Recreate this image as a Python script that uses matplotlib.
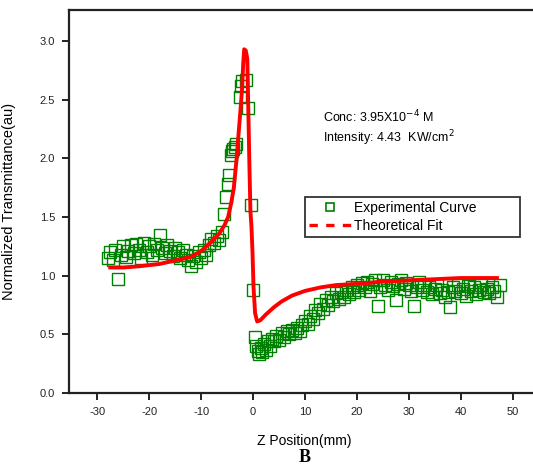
import matplotlib
matplotlib.use("Agg")
import matplotlib.pyplot as plt
from matplotlib.lines import Line2D

plt.rcParams['font.family'] = ['Liberation Sans', 'DejaVu Sans']
plt.rcParams['axes.unicode_minus'] = False

# experimental z-scan points (z in mm, normalized transmittance)
exp_z = [-28.0, -27.5, -27.0, -26.5, -26.0, -25.5, -25.0, -24.5, -24.0, -23.5,
         -23.0, -22.5, -22.0, -21.5, -21.0, -20.5, -20.0, -19.5, -19.0, -18.5,
         -18.0, -17.5, -17.0, -16.5, -16.0, -15.5, -15.0, -14.5, -14.0, -13.5,
         -13.0, -12.5, -12.0, -11.5, -11.0, -10.5, -10.0, -9.5, -9.0, -8.5,
         -8.0, -7.5, -7.0, -6.5, -6.0,
         -5.6, -5.2, -4.9, -4.6, -4.2, -4.0, -3.8, -3.5, -3.2, -2.6,
         -2.3, -2.1, -1.3, -0.9, -0.3, 0.0,
         0.3, 0.6, 0.9, 1.2, 1.5, 1.8, 2.1, 2.5, 2.8, 3.2,
         3.6, 4.0, 4.5, 5.0, 5.5, 6.0, 6.5, 7.0, 7.5, 8.0,
         8.5, 9.0, 9.5, 10.0, 10.5, 11.0, 11.5, 12.0, 12.5, 13.0,
         13.5, 14.0, 14.5, 15.0, 15.5, 16.0, 16.5, 17.0, 17.5, 18.0,
         18.5, 19.0, 19.5, 20.0, 20.5, 21.0, 21.5, 22.0, 22.5, 23.0,
         23.5, 24.0, 24.5, 25.0, 25.5, 26.0, 26.5, 27.0, 27.5, 28.0,
         28.5, 29.0, 29.5, 30.0, 30.5, 31.0, 31.5, 32.0, 32.5, 33.0,
         33.5, 34.0, 34.5, 35.0, 35.5, 36.0, 36.5, 37.0, 37.5, 38.0,
         38.5, 39.0, 39.5, 40.0, 40.5, 41.0, 41.5, 42.0, 42.5, 43.0,
         43.5, 44.0, 44.5, 45.0, 45.5, 46.0, 46.5, 47.0, 47.5]
exp_t = [1.15, 1.20, 1.13, 1.22, 0.97, 1.18, 1.25, 1.16, 1.21, 1.26,
         1.19, 1.27, 1.22, 1.15, 1.28, 1.20, 1.25, 1.18, 1.27, 1.22,
         1.35, 1.24, 1.19, 1.26, 1.21, 1.17, 1.24, 1.20, 1.15, 1.22,
         1.18, 1.13, 1.08, 1.17, 1.12, 1.20, 1.15, 1.22, 1.18, 1.26,
         1.31, 1.28, 1.34, 1.30, 1.37,
         1.53, 1.67, 1.78, 1.86, 2.03, 2.06, 2.08, 2.10, 2.12, 2.52,
         2.62, 2.66, 2.67, 2.43, 1.60, 0.88,
         0.48, 0.40, 0.36, 0.33, 0.38, 0.35, 0.42, 0.37, 0.44, 0.40,
         0.46, 0.44, 0.49, 0.45, 0.51, 0.48, 0.53, 0.50, 0.54, 0.51,
         0.55, 0.53, 0.58, 0.61, 0.59, 0.66, 0.63, 0.71, 0.68, 0.76,
         0.72, 0.79, 0.75, 0.82, 0.78, 0.85, 0.80, 0.86, 0.82, 0.88,
         0.84, 0.90, 0.86, 0.92, 0.88, 0.94, 0.90, 0.95, 0.87, 0.93,
         0.96, 0.74, 0.90, 0.96, 0.92, 0.88, 0.95, 0.91, 0.79, 0.93,
         0.96, 0.89, 0.94, 0.92, 0.87, 0.74, 0.90, 0.95, 0.88, 0.92,
         0.86, 0.90, 0.84, 0.89, 0.92, 0.85, 0.88, 0.82, 0.86, 0.73,
         0.90, 0.87, 0.92, 0.85, 0.89, 0.83, 0.91, 0.87, 0.90, 0.84,
         0.88, 0.92, 0.86, 0.89, 0.85, 0.90, 0.87, 0.82, 0.92]

# theoretical fit curve
fit_z = [-27.5, -25, -22, -20, -18, -16, -14, -12, -10, -8,
         -6.5, -5.5, -4.8, -4.2, -3.7, -3.2, -2.8, -2.4, -2.1, -1.9,
         -1.7, -1.4, -1.1, -0.9, -0.7, -0.5, -0.3, -0.1, 0.1, 0.4,
         0.8, 1.4, 2.5, 4.0, 5.5, 7.5, 10, 13, 16, 20,
         25, 30, 35, 40, 47]
fit_t = [1.07, 1.07, 1.08, 1.09, 1.10, 1.12, 1.14, 1.16, 1.21, 1.29,
         1.36, 1.43, 1.50, 1.62, 1.75, 1.98, 2.20, 2.42, 2.60, 2.80,
         2.93, 2.92, 2.85, 2.40, 1.95, 1.55, 1.42, 1.20, 0.90, 0.68,
         0.61, 0.62, 0.67, 0.73, 0.78, 0.83, 0.87, 0.90, 0.92, 0.93,
         0.95, 0.96, 0.97, 0.98, 0.98]

fig = plt.figure(figsize=(5.33, 4.72), dpi=100)
ax = fig.add_axes([0.1295, 0.1674, 0.8837, 0.8114])

ax.plot(exp_z, exp_t, 's', mfc='none', mec='#008000', ms=9.3, mew=1.0,
        zorder=2)
ax.plot(fit_z, fit_t, '-', color='#ff0000', lw=2.8, zorder=3)

ax.set_xlim(-35.45, 55.3)
ax.set_ylim(0, 3.265)
ax.set_xticks([-30, -20, -10, 0, 10, 20, 30, 40, 50])
ax.set_yticks([0.0, 0.5, 1.0, 1.5, 2.0, 2.5, 3.0])
ax.set_yticklabels(['0.0', '0.5', '1.0', '1.5', '2.0', '2.5', '3.0'])
ax.tick_params(direction='out', length=5, width=1.4, labelsize=8,
               colors='#222222', pad=5)
for s in ax.spines.values():
    s.set_linewidth(1.6)
    s.set_color('#222222')

ax.set_xlabel('Z Position(mm)', fontsize=10, labelpad=12)
ax.set_ylabel('Normalized Transmittance(au)', fontsize=10.5, labelpad=17)

fig.text(0.606, 0.752, 'Conc: 3.95X10$^{-4}$ M', fontsize=9, va='center')
fig.text(0.606, 0.707, 'Intensity: 4.43  KW/cm$^{2}$', fontsize=9,
         va='center')

handles = [Line2D([], [], ls='none', marker='s', mfc='none', mec='#008000',
                  ms=5.5, mew=1.2),
           Line2D([], [], color='#ff0000', lw=2.4, ls=(0, (2.5, 2.5)))]
leg = ax.legend(handles, ['Experimental Curve', 'Theoretical Fit'],
                loc='lower left', bbox_to_anchor=(0.501, 0.407, 0.4565, 0.128),
                mode='expand', fontsize=10, frameon=True, fancybox=False,
                borderpad=0.3, labelspacing=0.3, handlelength=3.0,
                handletextpad=0.2, borderaxespad=0)
leg.get_frame().set_edgecolor('black')
leg.get_frame().set_linewidth(1.3)

fig.text(0.572, 0.022, 'B', fontsize=13, fontweight='bold',
         family='Liberation Serif', ha='center')

fig.savefig('out.png', dpi=100)
